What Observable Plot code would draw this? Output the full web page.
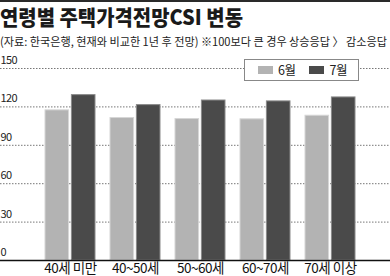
<!DOCTYPE html>
<html>
<head>
<meta charset="utf-8">
<script src="https://cdn.jsdelivr.net/npm/d3@7"></script>
<script src="https://cdn.jsdelivr.net/npm/@observablehq/plot@0.6"></script>
<style>
  html, body { margin: 0; padding: 0; background: #fff; }
  #wrap { position: relative; width: 390px; height: 276px; overflow: hidden; font-family: 'Noto Sans CJK KR', sans-serif; border-top: 2px solid #2a2a2a; box-sizing: border-box; }
  .fit { position: absolute; left: 0; white-space: nowrap; transform-origin: 0 0; }
  #title { top: 2.3px; font-size: 21px; font-weight: 900; color: #1a1a1a; line-height: 24px; }
  #subtitle { top: 30.6px; font-size: 11.5px; color: #222; line-height: 16px; }
  #chart { position: absolute; left: 0; top: 48px; }
  #legend { position: absolute; left: 244px; top: 57px; width: 113px; height: 20px; border: 1px solid #888; background: #fff; }
  #legend .sw { position: absolute; top: 6px; width: 15px; height: 8px; }
  #legend .lb { position: absolute; top: 0px; font-size: 12.5px; line-height: 20px; color: #222; letter-spacing: -0.5px; }
  g[aria-label="x-axis tick label"] text { letter-spacing: -0.5px; }
  g[aria-label="text"] text { letter-spacing: -0.6px; }
</style>
</head>
<body>
<div id="wrap">
  <div id="title" class="fit">연령별 주택가격전망CSI 변동</div>
  <div id="subtitle" class="fit">(자료: 한국은행, 현재와 비교한 1년 후 전망) ※100보다 큰 경우 상승응답 〉 감소응답</div>
  <div id="chart"></div>
  <div id="legend"></div>
</div>
<script>
const groups = ["40세 미만", "40~50세", "50~60세", "60~70세", "70세 이상"];
const series = ["6월", "7월"];
const june = [117.3, 111.3, 110.5, 110.3, 113.1];
const july = [129.2, 121.4, 125.0, 124.3, 127.4];
const yTicks = [0, 30, 60, 90, 120, 150];
const colors = ["#b3b3b3", "#4a4a4a"];

const dJune = groups.map((g, i) => ({group: g, value: june[i]}));
const dJuly = groups.map((g, i) => ({group: g, value: july[i]}));

const chart = Plot.plot({
  width: 390,
  height: 228,
  marginTop: 18,
  marginBottom: 18,
  marginLeft: 0,
  marginRight: 0,
  style: {fontFamily: "'Noto Sans CJK KR', sans-serif", background: "transparent", color: "#111"},
  x: {domain: groups, range: [43, 357], paddingInner: 0.23, paddingOuter: 0},
  y: {domain: [0, 150]},
  marks: [
    Plot.ruleY(yTicks.filter(t => t > 0), {stroke: "#777", strokeWidth: 1, strokeDasharray: "1.5,1.5"}),
    Plot.text(yTicks, {y: d => d, text: d => String(d), frameAnchor: "left", textAnchor: "start", dy: -8, fontSize: 11, fill: "#222"}),
    Plot.barY(dJune, {x: "group", y: "value", fill: colors[0], stroke: "#d6d6d6", strokeWidth: 1, insetRight: 26.4}),
    Plot.barY(dJuly, {x: "group", y: "value", fill: colors[1], stroke: "#8a8a8a", strokeWidth: 1, insetLeft: 26.4}),
    Plot.ruleY([0], {stroke: "#111", strokeWidth: 1.5}),
    Plot.axisX({tickSize: 0, tickPadding: 3, fontSize: 13.5, label: null, fill: "#111"}),
    Plot.axisY({ticks: [], label: null, tickSize: 0})
  ]
});
document.getElementById("chart").appendChild(chart);

// legend
const legend = document.getElementById("legend");
const swX = [12.5, 63.5];
const lbX = [33, 84.5];
series.forEach((s, i) => {
  const sw = document.createElement("div");
  sw.className = "sw";
  sw.style.left = swX[i] + "px";
  sw.style.background = colors[i];
  legend.appendChild(sw);
  const lb = document.createElement("div");
  lb.className = "lb";
  lb.style.left = lbX[i] + "px";
  lb.textContent = s;
  legend.appendChild(lb);
});

// fit header texts to reference widths
function fit(id, w) {
  const el = document.getElementById(id);
  const cur = el.getBoundingClientRect().width;
  el.style.transform = `scaleX(${w / cur})`;
}
fit("title", 243);
fit("subtitle", 387);
</script>
</body>
</html>
